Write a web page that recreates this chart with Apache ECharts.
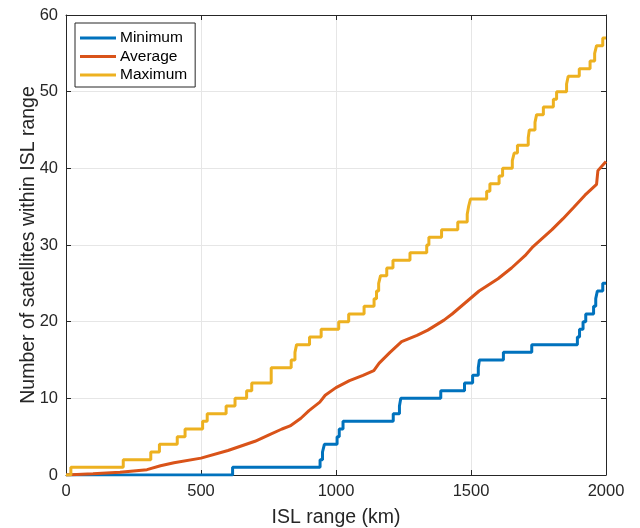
<!DOCTYPE html>
<html>
<head>
<meta charset="utf-8">
<script src="https://cdn.jsdelivr.net/npm/echarts@6/dist/echarts.min.js"></script>
<style>html,body{margin:0;padding:0;background:#fff}#c{width:640px;height:528px}</style>
</head>
<body>
<div id="c"></div>
<script>
// [ISL range km, number] — value holds from this x until the next point
const minimumSteps = [[0,0],[617,1],[941,2],[950,3],[957,4],[1004,5],[1012,6],[1026,7],[1212,8],[1235,9],[1240,10],[1388,11],[1476,12],[1506,13],[1527,14],[1531,15],[1620,16],[1725,17],[1894,18],[1902,19],[1915,20],[1925,21],[1954,22],[1962,23],[1968,24],[1988,25],[2000,25]];
const maximumSteps = [[0,0],[18,1],[212,2],[314,3],[346,4],[412,5],[441,6],[506,7],[523,8],[593,9],[626,10],[669,11],[688,12],[760,14],[834,15],[848,16],[854,17],[902,18],[945,19],[1010,20],[1047,21],[1104,22],[1141,23],[1150,24],[1158,25],[1165,26],[1188,27],[1211,28],[1274,29],[1336,30],[1344,31],[1391,32],[1451,33],[1486,34],[1491,35],[1498,36],[1558,37],[1570,38],[1604,39],[1617,40],[1653,41],[1660,42],[1672,43],[1712,44],[1716,45],[1737,46],[1743,47],[1768,48],[1805,49],[1817,50],[1854,51],[1860,52],[1901,53],[1941,54],[1958,55],[1965,56],[1988,57],[2000,57]];
const averageCurve = [[0,0],[100,0.15],[200,0.35],[300,0.7],[350,1.2],[400,1.6],[500,2.2],[600,3.2],[700,4.4],[750,5.2],[800,6.0],[830,6.4],[870,7.4],[900,8.4],[940,9.5],[960,10.4],[1000,11.4],[1050,12.3],[1100,13.0],[1140,13.6],[1160,14.6],[1200,16.0],[1243,17.4],[1300,18.2],[1340,18.9],[1400,20.2],[1430,21.0],[1480,22.5],[1530,24.0],[1600,25.6],[1650,27.0],[1700,28.6],[1730,29.8],[1800,32.0],[1840,33.4],[1880,34.9],[1922,36.5],[1965,37.9],[1970,39.7],[2000,40.9]];
const xTicks = [0,500,1000,1500,2000];
const yTicks = [0,10,20,30,40,50,60];

const font = '"Liberation Sans", Arial, Helvetica, sans-serif';
const axisCol = '#262626';
const chart = echarts.init(document.getElementById('c'), null, {renderer:'canvas'});
const baseX = {
  type:'value', min:xTicks[0], max:xTicks[xTicks.length-1], interval:500,
  axisLine:{show:true,onZero:false,lineStyle:{color:axisCol,width:1}},
  axisTick:{show:true,inside:true,length:5,lineStyle:{color:axisCol}},
  splitLine:{show:false}
};
const baseY = {
  type:'value', min:yTicks[0], max:yTicks[yTicks.length-1], interval:10,
  axisLine:{show:true,onZero:false,lineStyle:{color:axisCol,width:1}},
  axisTick:{show:true,inside:true,length:5,lineStyle:{color:axisCol}},
  splitLine:{show:false}
};
chart.setOption({
  animation:false,
  backgroundColor:'#fff',
  grid:{left:66,right:34,top:15,bottom:53,containLabel:false,outerBoundsMode:'none'},
  legend:{
    orient:'vertical', left:75, top:23,
    data:['Minimum','Average','Maximum'],
    icon:'rect', itemWidth:36, itemHeight:3, itemGap:2.5,
    borderColor:axisCol, borderWidth:1, backgroundColor:'#fff',
    padding:[7,8,4,5],
    textStyle:{fontFamily:font,fontSize:15.5,color:'#000',padding:[0,0,0,-1]}
  },
  xAxis:[
    Object.assign({}, baseX, {
      position:'bottom',
      splitLine:{show:true,lineStyle:{color:'#e6e6e6',width:1}},
      axisLabel:{fontFamily:font,fontSize:16.5,color:axisCol,margin:8,formatter:(v)=>String(v)},
      name:'ISL range (km)', nameLocation:'middle', nameGap:33, nameMoveOverlap:false,
      nameTextStyle:{fontFamily:font,fontSize:19.5,color:axisCol}
    }),
    Object.assign({}, baseX, {position:'top', axisLabel:{show:false}})
  ],
  yAxis:[
    Object.assign({}, baseY, {
      position:'left',
      splitLine:{show:true,lineStyle:{color:'#e6e6e6',width:1}},
      axisLabel:{fontFamily:font,fontSize:16.5,color:axisCol,margin:8,formatter:(v)=>String(v)},
      name:'Number of satellites within ISL range', nameLocation:'middle', nameGap:27, nameMoveOverlap:false,
      nameTextStyle:{fontFamily:font,fontSize:19.5,color:axisCol}
    }),
    Object.assign({}, baseY, {position:'right', axisLabel:{show:false}})
  ],
  series:[
    {name:'Minimum',type:'line',step:'end',data:minimumSteps,showSymbol:false,symbol:'none',
     lineStyle:{color:'#0072BD',width:3},itemStyle:{color:'#0072BD'},z:3},
    {name:'Average',type:'line',data:averageCurve,showSymbol:false,symbol:'none',
     lineStyle:{color:'#D95319',width:3},itemStyle:{color:'#D95319'},z:4},
    {name:'Maximum',type:'line',step:'end',data:maximumSteps,showSymbol:false,symbol:'none',
     lineStyle:{color:'#EDB120',width:3},itemStyle:{color:'#EDB120'},z:5}
  ]
});
</script>
</body>
</html>
